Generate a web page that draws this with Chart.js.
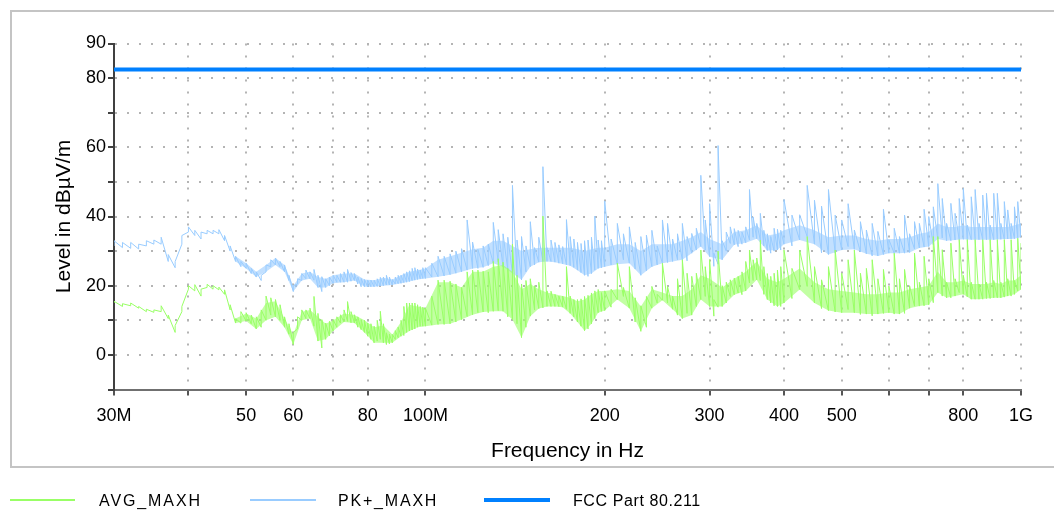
<!DOCTYPE html>
<html>
<head>
<meta charset="utf-8">
<script src="https://cdn.jsdelivr.net/npm/chart.js@4.4.1/dist/chart.umd.min.js"></script>
<style>
  html, body { margin: 0; padding: 0; background: #fff; }
  body { width: 1054px; height: 514px; position: relative; overflow: hidden; font-family: "Liberation Sans", Arial, sans-serif; }
  #frame { position: absolute; left: 10px; top: 10px; width: 1100px; height: 454px; border: 2px solid #c4c4c4; }
  #wrap { position: absolute; left: 0; top: 0; width: 1054px; height: 514px; }
  .lg-line { position: absolute; }
  .lg-text { position: absolute; top: 492px; font-size: 16px; line-height: 18px; color: #000; white-space: nowrap; }
</style>
</head>
<body>
<div id="frame"></div>
<div id="wrap"><canvas id="emiChart" width="1054" height="514"></canvas></div>
<div class="lg-line" style="left:10px;top:499px;width:65px;height:2px;background:#99ff66"></div>
<div class="lg-text" style="left:99px;letter-spacing:1.9px">AVG_MAXH</div>
<div class="lg-line" style="left:250px;top:499px;width:66px;height:2px;background:#99ccff"></div>
<div class="lg-text" style="left:338px;letter-spacing:1.8px">PK+_MAXH</div>
<div class="lg-line" style="left:484px;top:498px;width:66px;height:4px;background:#0080ff"></div>
<div class="lg-text" style="left:573px;letter-spacing:0.6px">FCC Part 80.211</div>
<script>
// frequency grid in MHz
const freqMHz = [
  30,31,32,33,34,35,36,37,38,39,
  40,41,42,43,44,45,46,47,48,49,
  50,51,52,53,54,55,56,57,58,59,
  60,61,62,63,64,65,66,67,68,69,
  70,71,72,73,74,75,76,77,78,79,
  80,81,82,83,84,85,86,87,88,89,
  90,91,92,93,94,95,96,97,98,99,
  100,102.5,105,107.5,110,112.5,115,117.5,120,122.5,
  125,127.5,130,132.5,135,137.5,140,142.5,145,147.5,
  150,152.5,155,157.5,160,162.5,165,167.5,170,172.5,
  175,177.5,180,182.5,185,187.5,190,192.5,195,197.5,
  200,205,210,215,220,225,230,235,240,245,
  250,255,260,265,270,275,280,285,290,295,
  300,305,310,315,320,325,330,335,340,345,
  350,355,360,365,370,375,380,385,390,395,
  400,412.5,425,437.5,450,462.5,475,487.5,500,512.5,
  525,537.5,550,562.5,575,587.5,600,612.5,625,637.5,
  650,662.5,675,687.5,700,712.5,725,737.5,750,762.5,
  775,787.5,800,812.5,825,837.5,850,862.5,875,887.5,
  900,912.5,925,937.5,950,962.5,975,987.5,1000
];

// PK+_MAXH, lower and upper trace level at each frequency (dBµV/m)
const pkLow = [
  31.5,31,30.8,30.6,31.5,32,32,27,25.2,32,
  35.5,34.5,33.5,35,35,35,33,30,27,25.5,
  25,23.5,22.5,21.5,24,25.5,26,25.5,24,21.5,
  18.3,20.5,21.5,22,22,21.6,19.5,18.3,19.5,20,
  20.7,21,21,21,21,21.3,21.5,20.5,19.7,19.7,
  19.7,19.7,19.7,19.8,19.9,20,20.2,20.2,20.2,20.5,
  20.6,20.7,20.9,21,21.2,21.5,21.6,21.8,22,22.1,
  22.1,22.5,22.6,22.8,23.2,23.6,24,24.5,25,25,
  25.3,25.8,26.5,26.8,25.5,24.5,23.6,22.7,21.7,24,
  25.5,26,26.8,27,27,27,26.8,26.5,26.3,26,
  25.8,25.3,24.5,23.8,23,22.7,23.5,24.5,25,25.2,
  25.5,26,26.2,27.5,26.5,24.8,23,24.3,25.5,26,
  26.5,26.7,27,27.5,27.5,27.2,29.4,30.3,31.3,30.3,
  28.4,25.6,26.2,27.5,30,32.2,31.8,31.3,32,32.4,
  33.2,34,33.6,33.2,31.5,30.2,29.4,30,30.3,30.3,
  32,31.5,33.2,34.2,32,29.5,29,29.4,30.3,31.3,
  30.5,29.8,29.2,28.6,28.6,29,29.4,29.4,29.4,29.4,
  29.6,30.6,30.9,31.2,31.3,31.8,33.5,33.8,33,33,
  33.2,33.3,33.4,33.3,33.3,33.3,33.3,33.3,33.3,33.3,
  33.3,33.4,33.4,33.4,33.5,33.5,33.6,33.7,34
];
const pkHigh = [
  33,32.5,32.5,32,33,33.2,34,29,27,34.5,
  37,36,35.5,36,36,36.2,34.5,31.5,28.5,27,
  26.5,25,24,23,26,27.5,28,27,26,23,
  20,22,23.5,24.5,24,24.7,23,22.6,22,22.5,
  23,23,23.5,24,24.7,23.8,23.5,22.5,22.1,21.8,
  21.6,21.6,21.6,22,22.4,22.5,23,22.5,21.8,22.5,
  23,23,23.5,24,24.3,25,25.2,24.8,24.5,25.2,
  25.2,26.5,28.5,28.5,29.2,30,30.7,39,32.6,30.5,
  31.5,32,38.3,36.2,35,34,49,33.2,34.2,31.5,
  38.5,31,34,54.4,31,33.2,32.5,31.8,31.3,39.1,
  34.2,33.5,32.5,32.2,33,33.2,34,40.1,33.2,33,
  44.5,33.5,38,35,37,32.5,34.2,34.6,36,31.5,
  39,38,33.5,35,38,34.2,35.1,36.6,51.9,39,
  43.7,29.4,60.5,33,35.5,37,36.5,36,35.5,37,
  47.8,39.9,38,40.9,36,35,34.2,36.6,36.3,36,
  44.9,40.4,40.5,49,44.7,43,47.8,40.4,39,43.7,
  36.1,38.5,36.1,38,35.7,42.1,33.3,36.6,34.2,40.4,
  35,38.5,38,42.1,40,42.8,49.5,45.2,38,43.8,
  40.9,45.2,48.1,37.5,45.7,47.8,38,46.2,46.7,37.5,
  46.7,46.7,38,44.3,41.9,38,42.8,44.3,38
];

// AVG_MAXH, lower and upper trace level at each frequency (dBµV/m)
const avgLow = [
  15,14,14.2,13.5,12.5,12.3,12.5,10.5,6.5,12.5,
  19,18.5,17,19.5,19,18.8,17.5,13,9.2,9.2,
  9.8,9,7.5,8,10,11.5,11,10,8,6,
  3,7.5,10,10.5,10.5,8.3,4,2,4.5,5.5,
  6.9,8,9.2,9.5,9.7,9.3,9.2,8,7.3,6.5,
  5.4,4.5,3.5,4,4.5,3.5,3,3.2,3.5,4.5,
  5,5.4,5.6,6.5,6.9,7.2,7.5,8,8.3,8.3,
  8.3,8.6,8.8,8.8,9,9.5,10.2,11.1,11.6,12.2,
  12.4,12.2,12.6,12.8,12.6,11,10.2,9,5,8,
  11.2,13,13.4,13.6,14,14,14,14,13.8,13.2,
  12,11,9.5,8.3,7,7.5,9,10.5,12.2,12.6,
  12.8,13.8,16,16.9,13.5,9.5,6.8,8,13.5,15,
  15.8,15,13.2,11.5,10.5,12,11.5,14,16,16.9,
  14,11.2,13.8,14,15,16.9,17.4,17.9,17.4,18.5,
  20.8,21.5,21.7,21.5,17.5,16,15,14.2,14,14,
  15,16.3,18.9,19.8,15,13.4,12.8,12.4,12.2,13.1,
  12.2,11.7,11.8,11.3,11.8,12,12.2,11.8,11.8,12,
  13.5,14.1,14.1,14.2,14.5,15.1,18,17,16.5,16.5,
  17,18,17.5,16.8,16.1,16.1,16.1,16.1,16.3,16.3,
  16.5,16.5,16.5,16.7,17,17,17.5,18.5,18.9
];
const avgHigh = [
  15.5,14.8,15,14,13.2,13,14.2,11.5,8.5,14,
  20,20.3,19,20.4,20,19.6,18.8,14.5,10.5,12.5,
  12.2,11.5,11,13,17,16.5,16,14.5,11,9,
  6.5,11,13,13,13.5,16.9,12,10.2,9.2,9.7,
  10.2,11,11.6,13,15.4,12.5,11.6,11,10.2,10,
  9.2,9,8.3,10,12.6,9,6.4,6,5.9,7,
  8,10,14,15,15,15,15,14.5,14,13.8,
  13.5,17,21.6,21.6,21.3,20.5,19.5,24,24.5,24.5,
  24.2,24,27,27.8,26.8,25,32,23,20.5,21.5,
  22,20,21,40.1,18.5,18.4,17.5,17,17,25.5,
  17,16,16,16.2,16.9,17.2,17.9,18.5,18.9,18,
  18.5,19,26.5,19.5,25.5,16.5,14.2,16.9,19.8,17.5,
  26.5,19.8,17,22,27.5,23.6,22.7,23.6,30.3,25.5,
  27.5,16,30,20,21,21.7,22.2,22.7,24,27,
  30.3,27.5,28,33.2,25.5,23.5,22.7,23.6,24.5,25.5,
  30.3,25,30.3,34.2,25.5,21.7,25.5,30.3,23.6,27.5,
  30.3,23.6,25,27.5,22,24.7,19.9,29.4,22,24.7,
  20,29.4,21,28.5,22,34.2,34.2,30.4,21,32.3,
  22,33.3,23,33.3,21,33.3,20.5,33.3,21,33.3,
  21.5,33.3,21,33.3,22,33.3,21.5,33.7,32.3
];

// dense part of each trace: top edge of the solid-looking band (dBµV/m)
const bandFreq = [
  48,50,52,54,56,58,60,62,64,66,68,70,
  73,76,79,82,85,88,91,94,97,
  100,105,110,115,120,125,130,135,140,145,150,155,160,165,170,175,180,185,190,195,
  200,210,220,230,240,250,260,270,280,290,300,
  315,330,345,360,375,390,
  400,425,450,475,500,525,550,575,600,625,650,675,700,725,750,775,800,825,850,875,900,925,950,975,1000
];
const avgBandTop = [
  10.5,12,10.5,15,15.5,10.5,6,12.5,13,11,9,10,
  12,11.5,10,8,8.5,5.9,9.5,14.5,14,
  13.5,21,21,19.5,24,24,25.5,26,24,19,20.5,19,18,17.5,17,16.5,15.5,16,17.5,18.5,
  18.5,19,18.5,14,19,18,17,17,19,23,22,
  19.5,22,24,27,22,21,
  22,25,21,19,18.5,18,17.5,17.5,18,18,19,19.5,20,24,21,21,21.5,20.5,20.5,20.5,21,20.5,21.5,21.5,23
];
const pkBandTop = [
  28.5,26.5,24,26,28,26,20,23.5,24,22.5,22,23,
  23.5,23.5,21.8,21.6,22.3,21.8,23,24,24.5,
  25,27.5,28.5,29.5,30.5,31,33,33,31.5,30,30.5,31,31,31,31,31,30.5,30,30.5,31,
  31,32,32,30,32,32,32,33,34,35.5,33.5,
  32,35.5,36,37.5,34.5,35,
  36,37.5,36,34,34.5,34.5,33.5,33,33.5,33.5,34,35,35.5,38,37,37,37.5,37,37,37,37,37,37,37.5,38
];

// limit line
const limitFreq = [30, 1000];
const limitLevel = [82.5, 82.5];

// axis ticks
const xTickValues = [30, 40, 50, 60, 70, 80, 100, 200, 300, 400, 500, 600, 700, 800, 1000];
const xTickLabels = ['30M', '', '50', '60', '', '80', '100M', '200', '300', '400', '500', '', '', '800', '1G'];
const yLabelled = [0, 20, 40, 60, 80, 90];

// each reading becomes a short vertical stroke from low to high
function trace(lo, hi) {
  const pts = [];
  freqMHz.forEach((f, i) => {
    pts.push({ x: f, y: lo[i] });
    pts.push({ x: f, y: hi[i] });
  });
  return pts;
}

// filled band between the trace's low readings and the band top
const bandIdx = bandFreq.map(f => freqMHz.indexOf(f));
function band(lo, top, fillColor) {
  return [
    { data: bandFreq.map((f, k) => ({ x: f, y: lo[bandIdx[k]] })), fill: '+1', backgroundColor: fillColor, borderWidth: 0, pointRadius: 0 },
    { data: bandFreq.map((f, k) => ({ x: f, y: top[k] })), fill: false, borderWidth: 0, pointRadius: 0 }
  ];
}

Chart.defaults.font.family = '"Liberation Sans", Arial, sans-serif';
Chart.defaults.color = '#000';

const lineStyle = { pointRadius: 0, borderWidth: 1, tension: 0, borderJoinStyle: 'bevel', fill: false };

new Chart(document.getElementById('emiChart').getContext('2d'), {
  type: 'line',
  data: {
    datasets: [
      Object.assign({ label: 'AVG_MAXH', data: trace(avgLow, avgHigh), borderColor: '#99ff66' }, lineStyle),
      ...band(avgLow, avgBandTop, 'rgba(153,255,102,0.6)'),
      Object.assign({ label: 'PK+_MAXH', data: trace(pkLow, pkHigh), borderColor: '#99ccff' }, lineStyle),
      ...band(pkLow, pkBandTop, 'rgba(153,204,255,0.6)'),
      {
        label: 'FCC Part 80.211',
        data: limitFreq.map((f, i) => ({ x: f, y: limitLevel[i] })),
        borderColor: '#0080ff', borderWidth: 4, pointRadius: 0, borderCapStyle: 'butt'
      }
    ]
  },
  options: {
    responsive: false,
    animation: false,
    layout: { padding: { left: 48, right: 33, top: 43.5, bottom: 46 } },
    plugins: { legend: { display: false }, tooltip: { enabled: false } },
    scales: {
      x: {
        type: 'logarithmic',
        min: 30,
        max: 1000,
        afterBuildTicks: s => { s.ticks = xTickValues.map(v => ({ value: v })); },
        afterFit: s => { s.height = 78.5; },
        ticks: {
          autoSkip: false, maxRotation: 0, minRotation: 0, padding: 10,
          font: { size: 18 },
          callback: (v, i) => xTickLabels[i]
        },
        grid: { color: '#b4b4b4', lineWidth: 2, tickLength: 6, tickColor: '#555', tickWidth: 2 },
        border: { color: '#707070', width: 2, dash: [2, 10] },
        title: { display: true, text: 'Frequency in Hz', font: { size: 21 }, padding: { top: 4, bottom: 4 } }
      },
      y: {
        min: -10,
        max: 90,
        afterFit: s => { s.width = 66; },
        ticks: {
          stepSize: 10, padding: 2, font: { size: 18 },
          callback: v => yLabelled.includes(v) ? String(v) : ''
        },
        grid: { color: '#b4b4b4', lineWidth: 2, tickLength: 6, tickColor: '#404040', tickWidth: 2 },
        border: { color: '#404040', width: 2, dash: [2, 10] },
        title: { display: true, text: 'Level in dB\u00b5V/m', font: { size: 21 }, padding: { top: 4, bottom: 4 } }
      }
    }
  }
});
</script>
</body>
</html>
